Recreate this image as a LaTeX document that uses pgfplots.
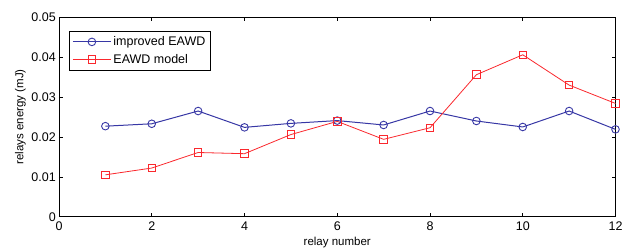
\documentclass[border=0pt]{standalone}
\usepackage{pgfplots}
\pgfplotsset{compat=1.18}
\usepackage{fontspec}
\setmainfont{Liberation Sans}
\definecolor{mblue}{RGB}{55,55,165}
\definecolor{mred}{RGB}{250,40,45}
\begin{document}
\begin{tikzpicture}
\fontsize{12}{14}\selectfont
\path[use as bounding box] (-59pt,-34.3pt) rectangle (564pt,216.7pt);
\begin{axis}[
  scale only axis,
  width=556.5pt, height=199.4pt,
  xmin=0, xmax=12, ymin=0, ymax=0.05,
  xtick={0,2,...,12},
  ytick={0,0.01,0.02,0.03,0.04,0.05},
  scaled y ticks=false,
  yticklabel style={xshift=1pt, /pgf/number format/.cd, fixed, precision=2},
  /pgf/number format/assume math mode=true,
  tick align=inside,
  major tick length=4pt,
  tick style={black, line width=0.6pt},
  axis line style={black, line width=0.9pt},
  xlabel={relay number},
  ylabel={relays energy (mJ)},
  xlabel style={at={(axis description cs:0.5,0)}, anchor=north, yshift=-16pt, font=\fontsize{11.5}{13}\selectfont},
  ylabel style={at={(axis description cs:0,0.5)}, anchor=south, yshift=29pt, font=\fontsize{11.5}{13}\selectfont},
  ticklabel style={font=\fontsize{12.5}{14}\selectfont},
  xticklabel style={yshift=-1pt},
  legend style={at={(rel axis cs:0.018,0.931)}, anchor=north west, draw=black, line width=0.8pt, font=\fontsize{12.5}{14}\selectfont, row sep=3pt, inner xsep=3pt, inner ysep=3pt, cells={anchor=west}},
  legend cell align=left,
  legend image code/.code={\draw[#1] (0pt,0pt) -- (38pt,0pt); \draw[#1, only marks] plot coordinates {(19pt,0pt)};},
]
\addplot[mblue, line width=1pt, mark=o, mark size=3.8pt, mark options={line width=0.9pt}] coordinates {
(1,0.0227) (2,0.0233) (3,0.0265) (4,0.0224) (5,0.0234) (6,0.0241) (7,0.0230) (8,0.0265) (9,0.0240) (10,0.0225) (11,0.0265) (12,0.0219)
};
\addlegendentry{improved EAWD}
\addplot[mred, line width=0.8pt, mark=square, mark size=3.8pt, mark options={line width=0.9pt}] coordinates {
(1,0.0105) (2,0.0122) (3,0.0161) (4,0.0158) (5,0.0206) (6,0.0239) (7,0.0194) (8,0.0223) (9,0.0356) (10,0.0406) (11,0.0330) (12,0.0284)
};
\addlegendentry{EAWD model}
\end{axis}
\end{tikzpicture}
\end{document}
